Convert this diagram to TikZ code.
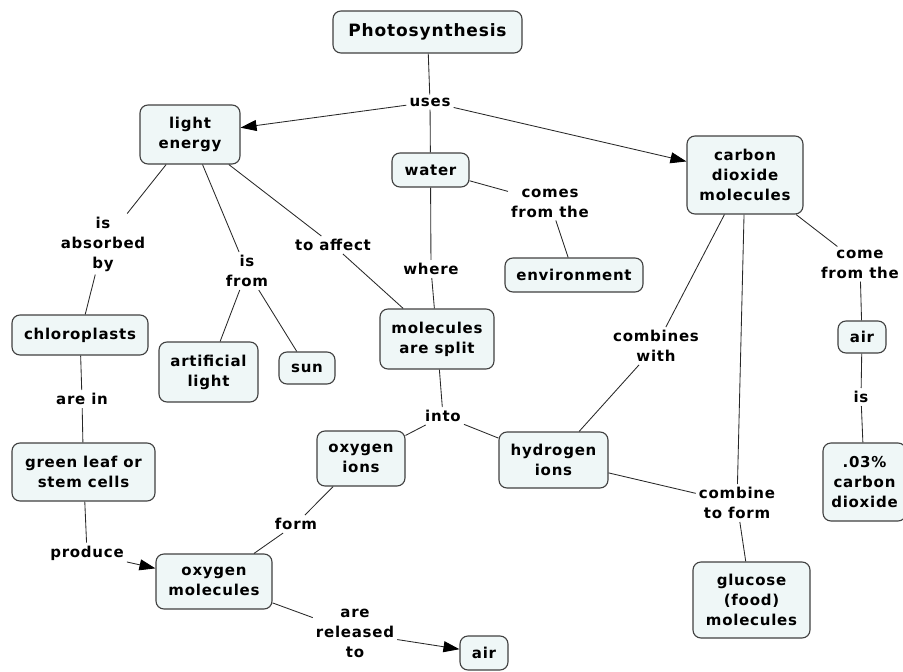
\documentclass[tikz,border=0pt]{standalone}
\usepackage{fontspec}
\setmainfont{DejaVu Sans}[LetterSpace=5]
\usetikzlibrary{arrows.meta}
\definecolor{boxfill}{RGB}{239,247,247}
\definecolor{edgecol}{RGB}{40,40,40}
\tikzset{
  cbox/.style 2 args={draw=black!75, line width=1.1pt, fill=boxfill, rounded corners=8pt,
    minimum width=#1pt, minimum height=#2pt, inner sep=0pt, align=center,
    font=\fontsize{15}{20}\selectfont\bfseries},
  lbl/.style={inner sep=3pt, align=center, font=\fontsize{15}{20}\selectfont\bfseries},
  conn/.style={draw=edgecol, line width=0.85pt},
  arr/.style={conn, -{Triangle[length=16pt,width=11pt,color=black]}}
}
\begin{document}
\begin{tikzpicture}[x=1pt,y=-1pt]
\useasboundingbox (0,0) rectangle (903,672);
% concepts
\node[cbox={189}{42}, font=\fontsize{17}{20}\selectfont\bfseries] (photo) at (427.5,32) {Photosynthesis};
\node[cbox={100}{59}] (light) at (190,134.5) {light\\energy};
\node[cbox={77}{34}] (water) at (430.5,170) {water};
\node[cbox={116}{78}] (co2) at (745,175) {carbon\\dioxide\\molecules};
\node[cbox={138}{34}] (env) at (574,275) {environment};
\node[cbox={136}{40}] (chloro) at (80,335) {chloroplasts};
\node[cbox={99}{60}] (art) at (208.5,372) {artificial\\light};
\node[cbox={56}{32}] (sun) at (307,368) {sun};
\node[cbox={114}{60}] (split) at (437,339) {molecules\\are split};
\node[cbox={48}{32}] (airR) at (862,337) {air};
\node[cbox={83}{78}] (pct) at (864.5,482) {.03\%\\carbon\\dioxide};
\node[cbox={143}{58}] (leaf) at (83.5,472) {green leaf or\\stem cells};
\node[cbox={88}{55}] (oions) at (361,458.5) {oxygen\\ions};
\node[cbox={109}{56}] (hions) at (553.5,460) {hydrogen\\ions};
\node[cbox={116}{55}] (omol) at (214,581.5) {oxygen\\molecules};
\node[cbox={117}{76}] (gluc) at (751.5,600) {glucose\\(food)\\molecules};
\node[cbox={48}{34}] (airB) at (484,653) {air};
% linking phrases
\node[lbl] (uses) at (430,102) {uses};
\node[lbl] (absorbed) at (103,244) {is\\absorbed\\by};
\node[lbl] (isfrom) at (247,271) {is\\from};
\node[lbl] (affect) at (333,245) {to affect};
\node[lbl] (comes) at (550,203) {comes\\from the};
\node[lbl] (where) at (431,269) {where};
\node[lbl] (combines) at (656,346) {combines\\with};
\node[lbl] (comefrom) at (860,264) {come\\from the};
\node[lbl] (is) at (861,397) {is};
\node[lbl] (arein) at (82,399) {are in};
\node[lbl] (into) at (443,416) {into};
\node[lbl] (form) at (296,524) {form};
\node[lbl] (produce) at (87,553) {produce};
\node[lbl] (ctf) at (737,503) {combine\\to form};
\node[lbl] (released) at (355,633) {are\\released\\to};
% connectors
\draw[conn] (photo) -- (uses);
\draw[arr] (uses) -- (light);
\draw[conn] (uses) -- (water);
\draw[arr] (uses) -- (co2);
\draw[conn] (light) -- (absorbed);
\draw[conn] (absorbed) -- (chloro);
\draw[conn] (light) -- (isfrom);
\draw[conn] (isfrom) -- (art);
\draw[conn] (isfrom) -- (sun);
\draw[conn] (light) -- (affect);
\draw[conn] (affect) -- (split);
\draw[conn] (water) -- (comes);
\draw[conn] (comes) -- (env);
\draw[conn] (water) -- (where);
\draw[conn] (where) -- (split);
\draw[conn] (co2) -- (combines);
\draw[conn] (combines) -- (hions);
\draw[conn] (co2) -- (ctf);
\draw[conn] (hions) -- (ctf);
\draw[conn] (ctf) -- (gluc);
\draw[conn] (co2) -- (comefrom);
\draw[conn] (comefrom) -- (airR);
\draw[conn] (airR) -- (is);
\draw[conn] (is) -- (pct);
\draw[conn] (chloro) -- (arein);
\draw[conn] (arein) -- (leaf);
\draw[conn] (leaf) -- (produce);
\draw[arr] (produce) -- (omol);
\draw[conn] (split) -- (into);
\draw[conn] (into) -- (oions);
\draw[conn] (into) -- (hions);
\draw[conn] (oions) -- (form);
\draw[conn] (form) -- (omol);
\draw[conn] (omol) -- (released);
\draw[arr] (released) -- (airB);
\end{tikzpicture}
\end{document}
